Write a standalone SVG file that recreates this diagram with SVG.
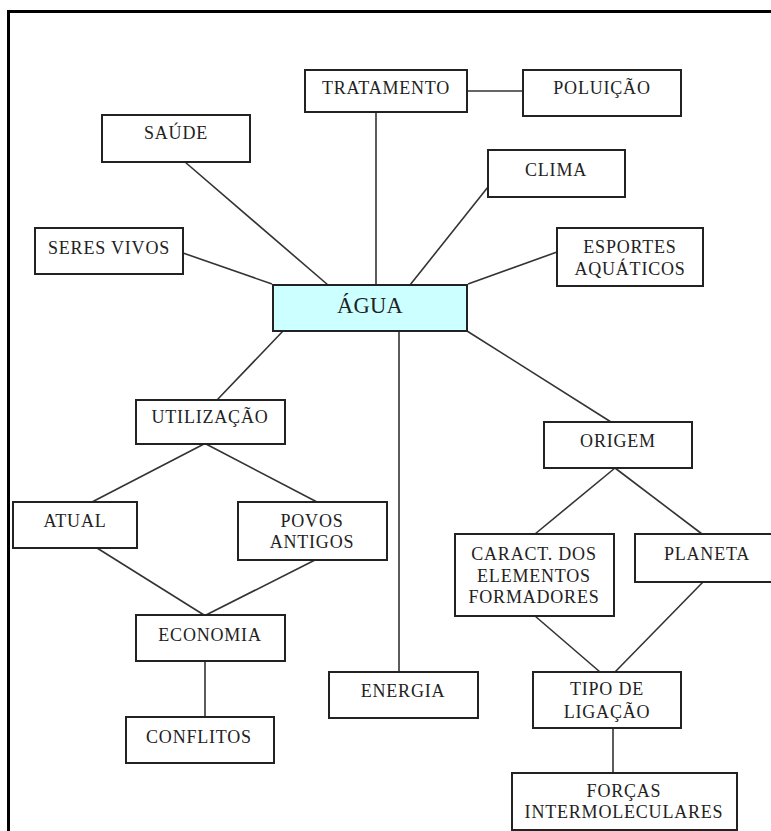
<svg xmlns="http://www.w3.org/2000/svg" width="771" height="831" viewBox="0 0 771 831">
<style>
.box{fill:#fff;stroke:#222;stroke-width:2}
.hub{fill:#ccffff;stroke:#222;stroke-width:2}
.t{font-family:'Liberation Serif','DejaVu Serif',serif;font-size:18px;letter-spacing:0.8px;fill:#222;text-anchor:middle}
.big{font-size:22.5px;letter-spacing:0.3px}
.ln{stroke:#333;stroke-width:1.6;fill:none}
</style>
<rect width="771" height="831" fill="#fff"/>
<path d="M8.5 831 V11.5 H771" fill="none" stroke="#000" stroke-width="3"/>
<g id="connectors">
<line class="ln" x1="467" y1="91" x2="523" y2="91"/>
<line class="ln" x1="376" y1="112" x2="376" y2="285"/>
<line class="ln" x1="185" y1="162" x2="328" y2="285"/>
<line class="ln" x1="183" y1="253" x2="272" y2="284"/>
<line class="ln" x1="488" y1="187" x2="410" y2="285"/>
<line class="ln" x1="557" y1="252" x2="468" y2="284"/>
<line class="ln" x1="283" y1="331" x2="217" y2="400"/>
<line class="ln" x1="399" y1="331" x2="399" y2="672"/>
<line class="ln" x1="467" y1="331" x2="611" y2="422"/>
<line class="ln" x1="204" y1="444" x2="92" y2="502"/>
<line class="ln" x1="206" y1="444" x2="317" y2="502"/>
<line class="ln" x1="97" y1="548" x2="204" y2="615"/>
<line class="ln" x1="315" y1="560" x2="206" y2="615"/>
<line class="ln" x1="205" y1="661" x2="205" y2="717"/>
<line class="ln" x1="615" y1="468" x2="535" y2="534"/>
<line class="ln" x1="615" y1="468" x2="702" y2="534"/>
<line class="ln" x1="535" y1="616" x2="600" y2="672"/>
<line class="ln" x1="703" y1="582" x2="615" y2="672"/>
<line class="ln" x1="613" y1="728" x2="613" y2="773"/>
</g>
<g id="agua"><rect class="hub" x="273" y="285" width="194" height="46"/><text class="t big" x="370" y="313">ÁGUA</text></g>
<g id="tratamento"><rect class="box" x="305" y="70" width="162" height="42"/><text class="t" x="386" y="94">TRATAMENTO</text></g>
<g id="poluicao"><rect class="box" x="523" y="70" width="158" height="46"/><text class="t" x="602" y="94">POLUIÇÃO</text></g>
<g id="saude"><rect class="box" x="102" y="115" width="148" height="47"/><text class="t" x="176" y="139">SAÚDE</text></g>
<g id="seres-vivos"><rect class="box" x="35" y="228" width="148" height="46"/><text class="t" x="109" y="254">SERES VIVOS</text></g>
<g id="clima"><rect class="box" x="488" y="150" width="137" height="47"/><text class="t" x="556" y="176">CLIMA</text></g>
<g id="esportes"><rect class="box" x="557" y="228" width="146" height="58"/><text class="t" x="630" y="253">ESPORTES</text><text class="t" x="630" y="275">AQUÁTICOS</text></g>
<g id="utilizacao"><rect class="box" x="136" y="400" width="149" height="44"/><text class="t" x="210" y="423">UTILIZAÇÃO</text></g>
<g id="atual"><rect class="box" x="13" y="502" width="124" height="46"/><text class="t" x="75" y="527">ATUAL</text></g>
<g id="povos-antigos"><rect class="box" x="238" y="502" width="149" height="58"/><text class="t" x="312" y="527">POVOS</text><text class="t" x="312" y="548">ANTIGOS</text></g>
<g id="economia"><rect class="box" x="136" y="615" width="149" height="46"/><text class="t" x="210" y="641">ECONOMIA</text></g>
<g id="conflitos"><rect class="box" x="126" y="717" width="148" height="46"/><text class="t" x="199" y="743">CONFLITOS</text></g>
<g id="energia"><rect class="box" x="329" y="672" width="149" height="46"/><text class="t" x="403" y="697">ENERGIA</text></g>
<g id="origem"><rect class="box" x="544" y="422" width="148" height="46"/><text class="t" x="618" y="447">ORIGEM</text></g>
<g id="caract"><rect class="box" x="455" y="534" width="159" height="82"/><text class="t" x="534" y="560">CARACT. DOS</text><text class="t" x="534" y="582">ELEMENTOS</text><text class="t" x="534" y="603">FORMADORES</text></g>
<g id="planeta"><rect class="box" x="635" y="534" width="140" height="48"/><text class="t" x="707" y="560">PLANETA</text></g>
<g id="tipo-ligacao"><rect class="box" x="533" y="672" width="148" height="56"/><text class="t" x="607" y="695">TIPO DE</text><text class="t" x="607" y="718">LIGAÇÃO</text></g>
<g id="forcas"><rect class="box" x="512" y="773" width="225" height="57"/><text class="t" x="624" y="797">FORÇAS</text><text class="t" x="624" y="818">INTERMOLECULARES</text></g>
</svg>
